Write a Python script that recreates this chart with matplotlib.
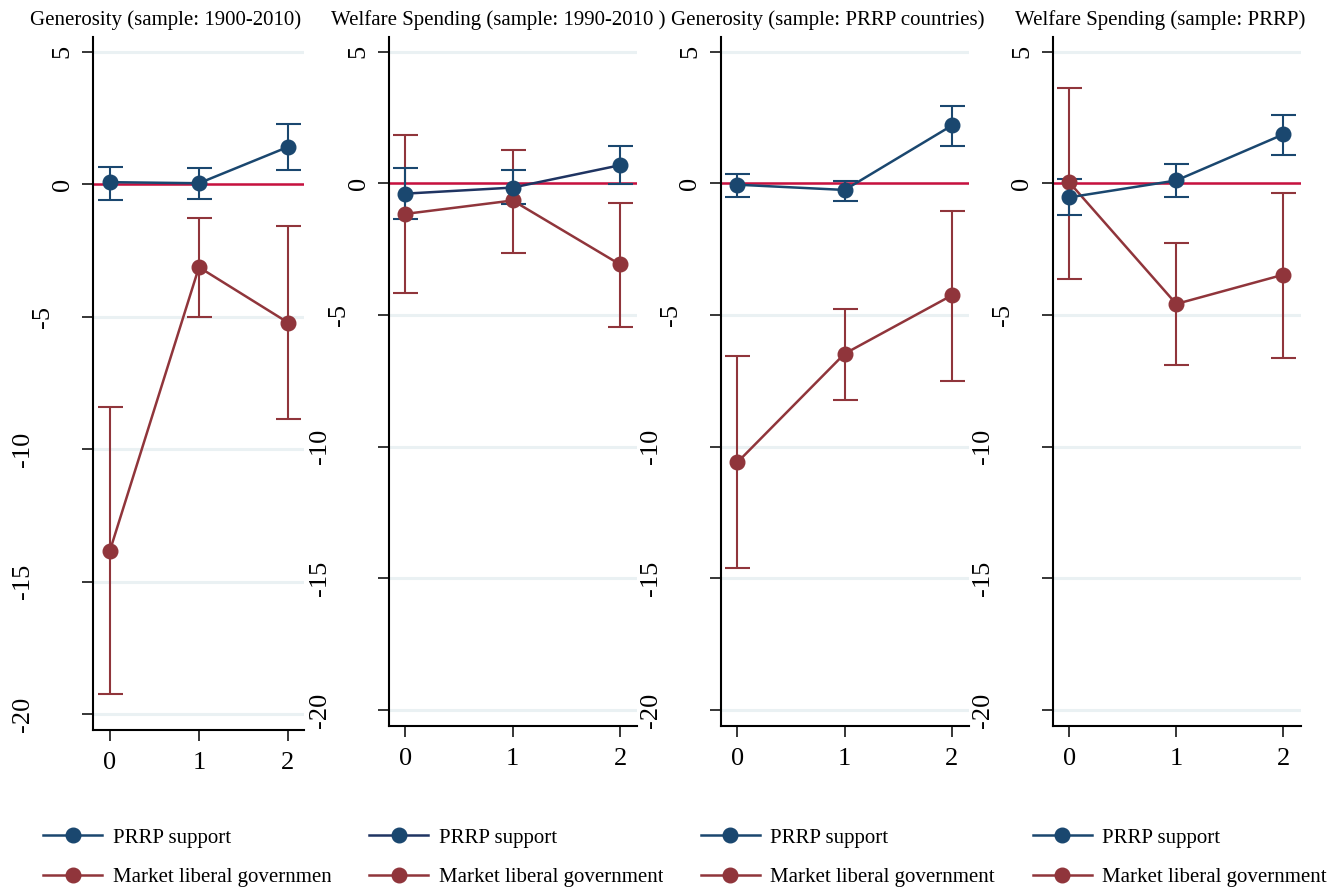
import matplotlib
matplotlib.use('Agg')
import matplotlib.pyplot as plt
from matplotlib.transforms import Bbox, TransformedBbox

plt.rcParams['font.family'] = ['Liberation Serif', 'DejaVu Serif']

# Datos (efecto, limite inferior, limite superior)
x = [0, 1, 2]
titles = ['Generosity (sample: 1900-2010)',
          'Welfare Spending (sample: 1990-2010 )',
          'Generosity (sample: PRRP countries)',
          'Welfare Spending (sample: PRRP)']
labels = ['PRRP support', 'Market liberal government']

prrp = [[0.08, 0.04, 1.41], [-0.39, -0.16, 0.69], [-0.05, -0.25, 2.20], [-0.53, 0.11, 1.86]]
prrp_lo = [[-0.58, -0.57, 0.55], [-1.35, -0.78, -0.03], [-0.53, -0.68, 1.43], [-1.21, -0.53, 1.06]]
prrp_hi = [[0.65, 0.62, 2.26], [0.60, 0.50, 1.43], [0.34, 0.10, 2.93], [0.15, 0.75, 2.60]]

market = [[-13.83, -3.13, -5.22], [-1.16, -0.65, -3.08], [-10.60, -6.47, -4.25], [0.04, -4.58, -3.47]]
market_lo = [[-19.25, -5.00, -8.86], [-4.15, -2.63, -5.47], [-14.60, -8.22, -7.50], [-3.65, -6.89, -6.64]]
market_hi = [[-8.40, -1.28, -1.56], [1.82, 1.27, -0.73], [-6.55, -4.78, -1.05], [3.62, -2.26, -0.37]]

yticks = [5, 0, -5, -10, -15, -20]

# Colores estilo Stata
navy = '#1a476f'
navy_dark = '#1f3462'
maroon = '#90353b'
zero_col = '#c8103e'
grid_col = '#eaf1f3'

W, H = 1342, 891
fig = plt.figure(figsize=(W / 100, H / 100), dpi=100)

# posiciones en pixeles: izquierda, derecha, arriba, abajo
boxes = [(93, 304, 37, 730), (389.3, 637, 37, 725.7), (720.5, 968.5, 37, 725.7), (1052.7, 1300.7, 37, 725.7)]
xlims = [(-0.19, 2.18), (-0.149, 2.158), (-0.156, 2.154), (-0.155, 2.163)]
title_cx = [166, 498, 828, 1160]
leg_x = [43, 369, 700.7, 1032.7]
cells = [(0, 331), (331, 663), (663, 995), (995, 1342)]

for i in range(4):
    l, r, t, b = boxes[i]
    ax = fig.add_axes([l / W, 1 - b / H, (r - l) / W, (b - t) / H])
    line_col = navy_dark if i == 1 else navy

    ax.axhline(0, color=zero_col, lw=1.8, zorder=2)

    ax.errorbar(x, market[i],
                yerr=[[m - lo for m, lo in zip(market[i], market_lo[i])],
                      [hi - m for m, hi in zip(market[i], market_hi[i])]],
                fmt='none', ecolor=maroon, elinewidth=1.5, capsize=9, capthick=1.5, zorder=3)
    ax.errorbar(x, prrp[i],
                yerr=[[p - lo for p, lo in zip(prrp[i], prrp_lo[i])],
                      [hi - p for p, hi in zip(prrp[i], prrp_hi[i])]],
                fmt='none', ecolor=navy, elinewidth=1.5, capsize=9, capthick=1.5, zorder=3)
    h2, = ax.plot(x, market[i], color=maroon, lw=1.8, marker='o', ms=10.5,
                  mfc=maroon, mec=maroon, zorder=4, label=labels[1])
    h1, = ax.plot(x, prrp[i], color=line_col, lw=1.8, marker='o', ms=10.5,
                  mfc=navy, mec=navy, zorder=5, label=labels[0])

    ax.set_xlim(*xlims[i])
    ax.set_ylim(-20.6, 5.56)
    ax.set_xticks(x)
    ax.set_xticklabels([str(v) for v in x], fontsize=19)
    ax.set_yticks(yticks)
    ax.tick_params(axis='y', labelleft=False, length=8, width=1.1, color='black')
    ax.tick_params(axis='x', length=8, width=1.1, pad=8, color='black')
    ax.yaxis.grid(True, color=grid_col, lw=2.2)
    ax.set_axisbelow(True)
    for s in ['top', 'right']:
        ax.spines[s].set_visible(False)
    for s in ['left', 'bottom']:
        ax.spines[s].set_linewidth(1.5)

    # etiquetas del eje y giradas, como en Stata
    for v in yticks:
        txt = str(v)
        off = (11 + 19.5 * len(txt)) * 0.72
        ax.annotate(txt, xy=(0, v), xycoords=('axes fraction', 'data'),
                    xytext=(-off, 0), textcoords='offset points',
                    rotation=90, ha='center', va='center', fontsize=19)

    fig.text(title_cx[i] / W, 1 - 20 / H, titles[i], ha='center', va='center', fontsize=15)

    leg = fig.legend(handles=[h1, h2], loc='upper left',
                     bbox_to_anchor=(leg_x[i] / W, 1 - 828 / H),
                     frameon=False, fontsize=15, handlelength=2.85, handletextpad=0.5,
                     labelspacing=0.95, borderpad=0, borderaxespad=0, numpoints=1)
    clip = TransformedBbox(Bbox([[cells[i][0] / W, 0], [cells[i][1] / W, 1]]), fig.transFigure)
    for t_ in leg.get_texts():
        t_.set_clip_box(clip)
        t_.set_clip_on(True)

plt.savefig('out.png', dpi=100)
